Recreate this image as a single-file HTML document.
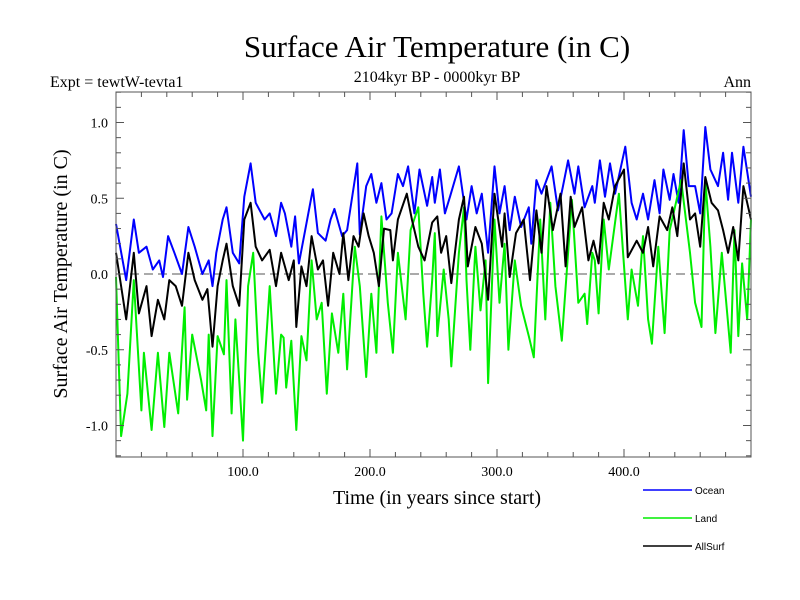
<!DOCTYPE html>
<html><head><meta charset="utf-8"><style>
body{margin:0;background:#fff;}
svg{display:block;}
.serif{font-family:"Liberation Serif",serif;}
.sans{font-family:"Liberation Sans",sans-serif;}
</style></head><body>
<svg id="chart" width="800" height="600" viewBox="0 0 800 600">
<rect x="0" y="0" width="800" height="600" fill="#fff"/>
<text x="437" y="57" text-anchor="middle" class="serif" font-size="31">Surface Air Temperature (in C)</text>
<text x="50" y="87" class="serif" font-size="16">Expt = tewtW-tevta1</text>
<text x="437" y="82" text-anchor="middle" class="serif" font-size="16">2104kyr BP - 0000kyr BP</text>
<text x="751" y="87" text-anchor="end" class="serif" font-size="16">Ann</text>
<text transform="translate(67,274) rotate(-90)" text-anchor="middle" class="serif" font-size="20">Surface Air Temperature (in C)</text>
<text x="437" y="504" text-anchor="middle" class="serif" font-size="20">Time (in years since start)</text>
<g id="plot"></g>
<g id="legend"></g>
</svg>
<script>
const oceanYears=[0,8,14,18,24,29,34,37,41,46,52,57,62,68,73,76,79,84,87,92,97,101,106,110,117,121,126,130,133,138,141,144,149,153,155,159,165,169,172,178,182,190,192,197,201,205,209,213,217,222,226,230,235,239,245,249,251,255,259,263,270,276,280,284,288,293,298,302,306,310,314,319,325,327,331,335,343,348,352,356,361,364,369,375,377,381,385,389,393,401,406,410,415,419,424,428,431,436,439,443,447,451,456,460,464,468,474,478,482,485,490,494,500];
const oceanValues=[0.33,-0.04,0.36,0.14,0.18,0.03,0.09,-0.02,0.25,0.14,0.00,0.31,0.18,0.00,0.09,-0.08,0.14,0.36,0.44,0.14,0.07,0.51,0.73,0.47,0.36,0.40,0.25,0.47,0.40,0.18,0.38,0.07,0.29,0.47,0.56,0.27,0.22,0.36,0.43,0.25,0.29,0.73,0.26,0.58,0.66,0.47,0.60,0.36,0.40,0.66,0.58,0.71,0.40,0.69,0.45,0.64,0.47,0.69,0.40,0.51,0.71,0.36,0.58,0.40,0.53,0.14,0.71,0.40,0.58,0.29,0.51,0.31,0.44,0.20,0.62,0.53,0.71,0.42,0.58,0.75,0.53,0.71,0.44,0.58,0.47,0.75,0.51,0.73,0.53,0.84,0.47,0.36,0.53,0.36,0.62,0.40,0.69,0.49,0.66,0.47,0.95,0.58,0.58,0.40,0.97,0.69,0.58,0.80,0.49,0.80,0.47,0.84,0.51];
const landYears=[0,4,9,14,20,22,28,33,38,42,49,54,56,60,67,71,73,76,80,85,87,91,94,100,104,108,112,115,121,126,130,132,134,138,142,146,150,154,158,162,166,170,175,179,182,188,192,197,201,205,209,214,218,222,228,232,238,242,245,249,251,253,258,262,264,270,274,276,279,283,287,291,293,298,302,306,309,314,319,325,329,334,338,342,346,351,359,364,369,371,375,377,380,384,388,396,403,406,411,415,419,422,427,432,436,445,452,456,461,464,468,472,477,484,487,490,493,497,500];
const landValues=[-0.02,-1.07,-0.79,-0.04,-0.90,-0.52,-1.03,-0.52,-1.01,-0.52,-0.92,-0.22,-0.83,-0.40,-0.70,-0.90,-0.40,-1.07,-0.41,-0.53,-0.04,-0.92,-0.30,-1.10,-0.08,0.14,-0.52,-0.85,-0.08,-0.79,-0.40,-0.42,-0.75,-0.44,-1.03,-0.41,-0.57,0.09,-0.30,-0.19,-0.79,-0.26,-0.52,-0.13,-0.63,0.18,-0.08,-0.68,-0.13,-0.52,0.38,-0.19,-0.52,0.14,-0.30,0.29,0.44,-0.13,-0.48,-0.04,0.27,-0.41,0.03,-0.30,-0.61,0.14,0.44,-0.04,-0.50,0.18,-0.24,0.09,-0.72,0.36,-0.19,0.20,-0.50,0.09,-0.21,-0.41,-0.55,0.36,-0.30,0.47,-0.08,-0.44,0.49,-0.19,-0.13,-0.33,0.14,0.09,-0.26,0.36,0.03,0.53,-0.30,0.03,-0.21,0.25,-0.30,-0.46,0.18,-0.39,0.29,0.62,0.14,-0.19,-0.35,0.62,0.18,-0.39,0.14,-0.52,0.29,-0.41,0.07,-0.30,0.36];
const allYears=[0,8,14,18,24,28,33,38,42,47,52,57,62,68,72,76,80,84,87,92,97,101,106,110,115,121,126,130,136,140,142,146,150,154,159,163,167,171,176,179,183,187,191,195,199,203,207,211,216,218,222,229,233,238,243,249,253,256,260,264,270,274,277,283,288,293,298,304,306,310,315,321,326,331,335,339,344,350,354,358,361,367,372,376,380,384,388,393,400,403,410,415,419,423,428,434,438,442,447,452,456,460,464,469,474,478,482,486,490,494,500];
const allValues=[0.14,-0.30,0.14,-0.26,-0.08,-0.41,-0.17,-0.30,-0.04,-0.08,-0.21,0.14,-0.04,-0.17,-0.10,-0.48,-0.08,0.09,0.20,-0.08,-0.21,0.36,0.47,0.18,0.09,0.16,-0.08,0.14,-0.04,0.09,-0.35,0.05,-0.08,0.25,0.03,0.09,-0.21,0.14,0.00,0.27,-0.04,0.25,0.18,0.40,0.25,0.14,-0.08,0.30,0.29,0.09,0.36,0.53,0.36,0.18,0.09,0.34,0.38,0.14,0.25,-0.06,0.36,0.51,0.05,0.31,0.20,-0.17,0.53,0.18,0.40,-0.02,0.27,0.36,-0.04,0.42,0.14,0.58,0.29,0.53,0.05,0.51,0.31,0.44,0.09,0.22,0.07,0.47,0.36,0.58,0.69,0.11,0.22,0.14,0.31,0.05,0.38,0.29,0.44,0.25,0.73,0.36,0.40,0.18,0.64,0.47,0.42,0.29,0.14,0.31,0.09,0.58,0.36];
const yTickValues=[1.0,0.5,0.0,-0.5,-1.0];
const yTickLabels=["1.0","0.5","0.0","-0.5","-1.0"];
const xTickValues=[100,200,300,400];
const xTickLabels=["100.0","200.0","300.0","400.0"];
const seriesNames=["Ocean","Land","AllSurf"];

const NS="http://www.w3.org/2000/svg";
const L=116,R=751,T=92,B=457;
const xScale=v=>L+(v-0)*(R-L)/500;
const yScale=v=>274-v*151.5;
const plot=document.getElementById('plot');
function mk(tag,attrs,parent){const e=document.createElementNS(NS,tag);for(const k in attrs)e.setAttribute(k,attrs[k]);(parent||plot).appendChild(e);return e;}

const zero=mk('line',{x1:L,x2:R,y1:yScale(0),y2:yScale(0),stroke:'#555','stroke-dasharray':'9,5','stroke-width':1});



function series(xs,vs,color,name){
  let d='';
  for(let i=0;i<xs.length;i++){d+=(i?'L':'M')+xScale(xs[i]).toFixed(1)+','+yScale(vs[i]).toFixed(1);}
  const p=mk('path',{d:d,fill:'none',stroke:color,'stroke-width':2,'stroke-linejoin':'round'});
  
  
}
series(oceanYears,oceanValues,'#0000ff','ocean-series');
series(landYears,landValues,'#00ee00','land-series');
series(allYears,allValues,'#000000','allsurf-series');

const frame=mk('rect',{x:L,y:T,width:R-L,height:B-T,fill:'none',stroke:'#555','stroke-width':1});



for(let v=-1.2;v<=1.2001;v+=0.1){
  const y=yScale(v);const major=Math.abs(Math.round(v*10)%5)===0;const len=major?8:5;
  const t1=mk('line',{x1:L,x2:L+len,y1:y,y2:y,stroke:'#555'});
  
  
  const t2=mk('line',{x1:R-len,x2:R,y1:y,y2:y,stroke:'#555'});
  
  
}
yTickValues.forEach((v,i)=>{
  const t=mk('text',{x:108,y:yScale(v)+5,'text-anchor':'end','font-size':14,'font-family':'Liberation Serif, serif'});
  t.textContent=yTickLabels[i];
  
  
});
for(let v=20;v<500;v+=20){
  const x=xScale(v);const major=v%100===0;const len=major?8:5;
  const t1=mk('line',{x1:x,x2:x,y1:B-len,y2:B,stroke:'#555'});
  
  
  const t2=mk('line',{x1:x,x2:x,y1:T,y2:T+len,stroke:'#555'});
  
  
}
xTickValues.forEach((v,i)=>{
  const t=mk('text',{x:xScale(v),y:476,'text-anchor':'middle','font-size':14,'font-family':'Liberation Serif, serif'});
  t.textContent=xTickLabels[i];
  
  
});

const lg=document.getElementById('legend');
const colors=['#0000ff','#00ee00','#000000'];
seriesNames.forEach((n,i)=>{
  const y=490+i*28;
  const l=mk('line',{x1:643,x2:692,y1:y,y2:y,stroke:colors[i],'stroke-width':1.5},lg);
  
  
  const t=mk('text',{x:695,y:y+4,'font-size':10,'font-family':'Liberation Sans, sans-serif'},lg);
  t.textContent=n;
  
  
});
</script>
</body></html>
